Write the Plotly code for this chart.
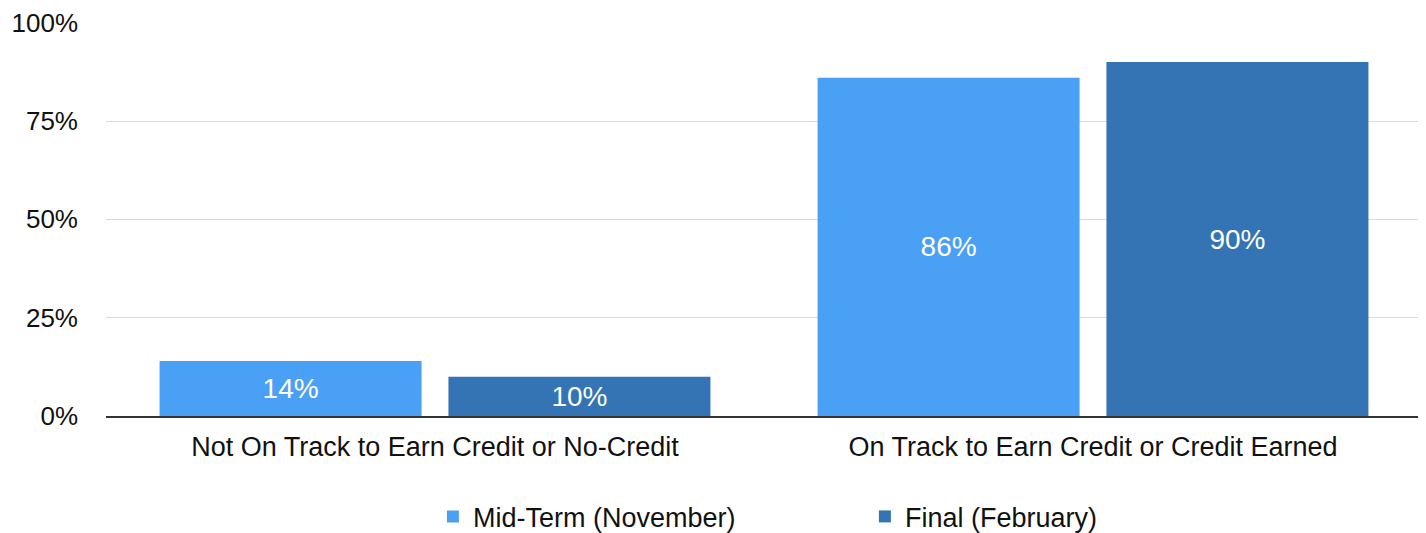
import plotly.graph_objects as go

categories = ["Not On Track to Earn Credit or No-Credit", "On Track to Earn Credit or Credit Earned"]
series_names = ["Mid-Term (November)", "Final (February)"]
midterm = [14, 86]
final = [10, 90]
colors = ["#4AA0F5", "#3474B4"]
tick_vals = [0, 25, 50, 75, 100]
tick_text = ["0%", "25%", "50%", "75%", "100%"]

FONT = "Liberation Sans, Arial, Helvetica, sans-serif"

fig = go.Figure()
for name, vals, col in zip(series_names, [midterm, final], colors):
    fig.add_trace(go.Bar(
        x=categories, y=vals, name=name,
        marker=dict(color=col, line=dict(width=0)),
        text=[f"{v}%" for v in vals],
        textposition="inside", insidetextanchor="middle",
        textfont=dict(color="white", size=28, family=FONT),
        hoverinfo="skip",
    ))

# page body has an 8px margin, so the figure is sized to fill the rest of the window
fig.update_layout(
    width=1418, height=525,
    margin=dict(l=98, r=4, t=14, b=117, autoexpand=False),
    paper_bgcolor="white", plot_bgcolor="white",
    barmode="group", bargap=0.122, bargroupgap=0.093,
    font=dict(family=FONT, color="#222222", size=27),
    showlegend=True,
    legend=dict(orientation="h", x=0.2484, xanchor="left", y=-0.256, yanchor="middle",
                entrywidth=387, entrywidthmode="pixels",
                font=dict(size=27, color="#111111"), traceorder="normal"),
    uniformtext=dict(mode=False),
)
fig.update_xaxes(showgrid=False, showline=True, linecolor="#333333", linewidth=1.5,
                 ticks="", automargin=False, ticklabelstandoff=6,
                 tickfont=dict(size=27, color="#111111"))
fig.update_yaxes(range=[0, 100.2], tickvals=tick_vals, ticktext=tick_text,
                 showgrid=True, gridcolor="#dadada", gridwidth=1,
                 zeroline=False, showline=False, ticks="",
                 automargin=False, ticklabelstandoff=27,
                 ticklabeloverflow="allow",
                 tickfont=dict(size=26, color="#111111"))

fig.write_html("out.html")
